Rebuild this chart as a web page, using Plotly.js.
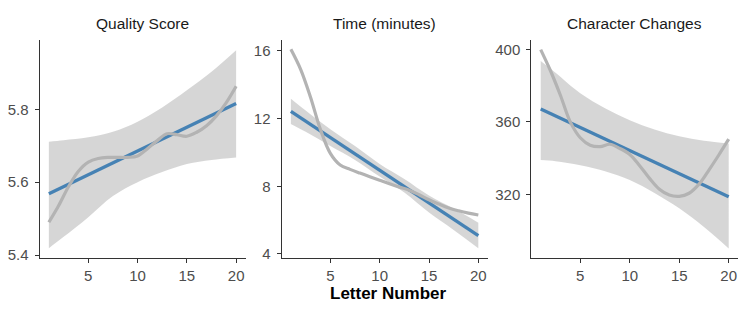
<!DOCTYPE html>
<html>
<head>
<meta charset="utf-8">
<script src="https://cdn.plot.ly/plotly-3.0.1.min.js"></script>
<style>html,body{margin:0;padding:0;background:#fff;}#chart{width:747px;height:312px;}</style>
</head>
<body>
<div id="chart"></div>
<script>
// ---- data ----
const panelTitles = ["Quality Score", "Time (minutes)", "Character Changes"];
const xTitle = "Letter Number";
const letterNumbers = [1,2,3,4,5,6,7,8,9,10,11,12,13,14,15,16,17,18,19,20];
const xTickVals = [5, 10, 15, 20];

// linear fit end points (x = 1 and x = 20)
const fitX = [1, 20];
const qualityFit = [5.568, 5.816];
const timeFit = [12.43, 5.08];
const changesFit = [367.0, 318.7];

// confidence band of the linear fit
const bandX = [1, 2.5, 5, 7.5, 10, 12.5, 15, 17.5, 20];
const qualityUpper = [5.711, 5.715, 5.723, 5.738, 5.766, 5.805, 5.852, 5.903, 5.962];
const qualityLower = [5.419, 5.450, 5.504, 5.562, 5.600, 5.628, 5.650, 5.661, 5.668];
const timeUpper = [13.18, 12.48, 11.38, 10.38, 9.32, 8.43, 7.45, 6.68, 5.85];
const timeLower = [11.69, 11.22, 10.38, 9.56, 8.58, 7.63, 6.45, 5.42, 4.34];
const changesUpper = [393.5, 387.0, 375.7, 367.5, 360.9, 355.8, 352.0, 349.6, 348.1];
const changesLower = [338.9, 338.3, 336.1, 332.8, 327.9, 320.8, 312.3, 302.0, 290.2];

// loess smooth (grey curve)
const qualityLoess = [5.490, 5.536, 5.588, 5.630, 5.655, 5.665, 5.668, 5.668, 5.668, 5.672, 5.692, 5.714, 5.733, 5.730, 5.726, 5.737, 5.755, 5.782, 5.818, 5.863];
const timeLoess = [16.10, 14.90, 13.25, 11.35, 9.95, 9.26, 9.0, 8.78, 8.57, 8.36, 8.15, 7.95, 7.77, 7.50, 7.20, 6.95, 6.72, 6.55, 6.41, 6.30];
const changesLoess = [399.8, 388.0, 374.5, 359.8, 351.2, 347.1, 346.3, 347.6, 345.3, 342.0, 335.8, 328.8, 322.8, 319.6, 318.9, 320.6, 325.6, 333.4, 341.7, 350.4];

const yTicks = [[5.4, 5.6, 5.8], [4, 8, 12, 16], [320, 360, 400]];
const yRanges = [[5.392, 5.990], [3.76, 16.65], [284.9, 405.1]];

// ---- build ----
(function () {
const W = 747, H = 312;
const panels = [
  {fit: qualityFit, up: qualityUpper, lo: qualityLower, loess: qualityLoess, left: 39.5, right: 245.5},
  {fit: timeFit, up: timeUpper, lo: timeLower, loess: timeLoess, left: 281.5, right: 487.7},
  {fit: changesFit, up: changesUpper, lo: changesLower, loess: changesLoess, left: 531.3, right: 738.1}
];
const plotTop = 40, plotBottom = 258;
const traces = [];
const layout = {
  width: W, height: H,
  margin: {l: 0, r: 0, t: 0, b: 0},
  paper_bgcolor: "#fff", plot_bgcolor: "#fff",
  showlegend: false,
  font: {family: "Liberation Sans, Arial, sans-serif", size: 15, color: "#4D4D4D"},
  annotations: []
};
panels.forEach((p, i) => {
  const n = i === 0 ? "" : String(i + 1);
  const xa = "x" + n, ya = "y" + n;
  traces.push({x: bandX, y: p.lo, xaxis: xa, yaxis: ya, mode: "lines", line: {width: 0, shape: "spline", color: "rgba(0,0,0,0)"}, hoverinfo: "skip"});
  traces.push({x: bandX, y: p.up, xaxis: xa, yaxis: ya, mode: "lines", line: {width: 0, shape: "spline", color: "rgba(0,0,0,0)"}, fill: "tonexty", fillcolor: "rgba(153,153,153,0.4)", hoverinfo: "skip"});
  traces.push({x: fitX, y: p.fit, xaxis: xa, yaxis: ya, mode: "lines", line: {width: 3.3, color: "#4682B4"}});
  traces.push({x: letterNumbers, y: p.loess, xaxis: xa, yaxis: ya, mode: "lines", line: {width: 3.2, color: "#B3B3B3", shape: "spline", smoothing: 1}});
  const axBase = {showline: true, linecolor: "#333333", linewidth: 1, ticks: "outside", ticklen: 4, tickwidth: 1, tickcolor: "#333333", showgrid: false, zeroline: false, tickfont: {size: 15, color: "#4D4D4D"}};
  layout["xaxis" + n] = Object.assign({}, axBase, {domain: [p.left / W, p.right / W], range: [0.05, 20.95], tickvals: xTickVals, anchor: ya, ticklabelstandoff: 0});
  layout["yaxis" + n] = Object.assign({}, axBase, {domain: [1 - plotBottom / H, 1 - plotTop / H], range: yRanges[i], tickvals: yTicks[i], anchor: xa, ticklabelstandoff: 3});
  layout.annotations.push({text: panelTitles[i], xref: "paper", yref: "paper", x: (p.left + p.right) / 2 / W, y: 1 - 24 / H, xanchor: "center", yanchor: "middle", showarrow: false, font: {size: 15.5, color: "#1A1A1A"}});
});
layout.annotations.push({text: "<b>" + xTitle + "</b>", xref: "paper", yref: "paper", x: 388 / W, y: 1 - 293 / H, xanchor: "center", yanchor: "middle", showarrow: false, font: {size: 17, color: "#000000"}});
Plotly.newPlot("chart", traces, layout, {displayModeBar: false, staticPlot: true});
})();
</script>
</body>
</html>
